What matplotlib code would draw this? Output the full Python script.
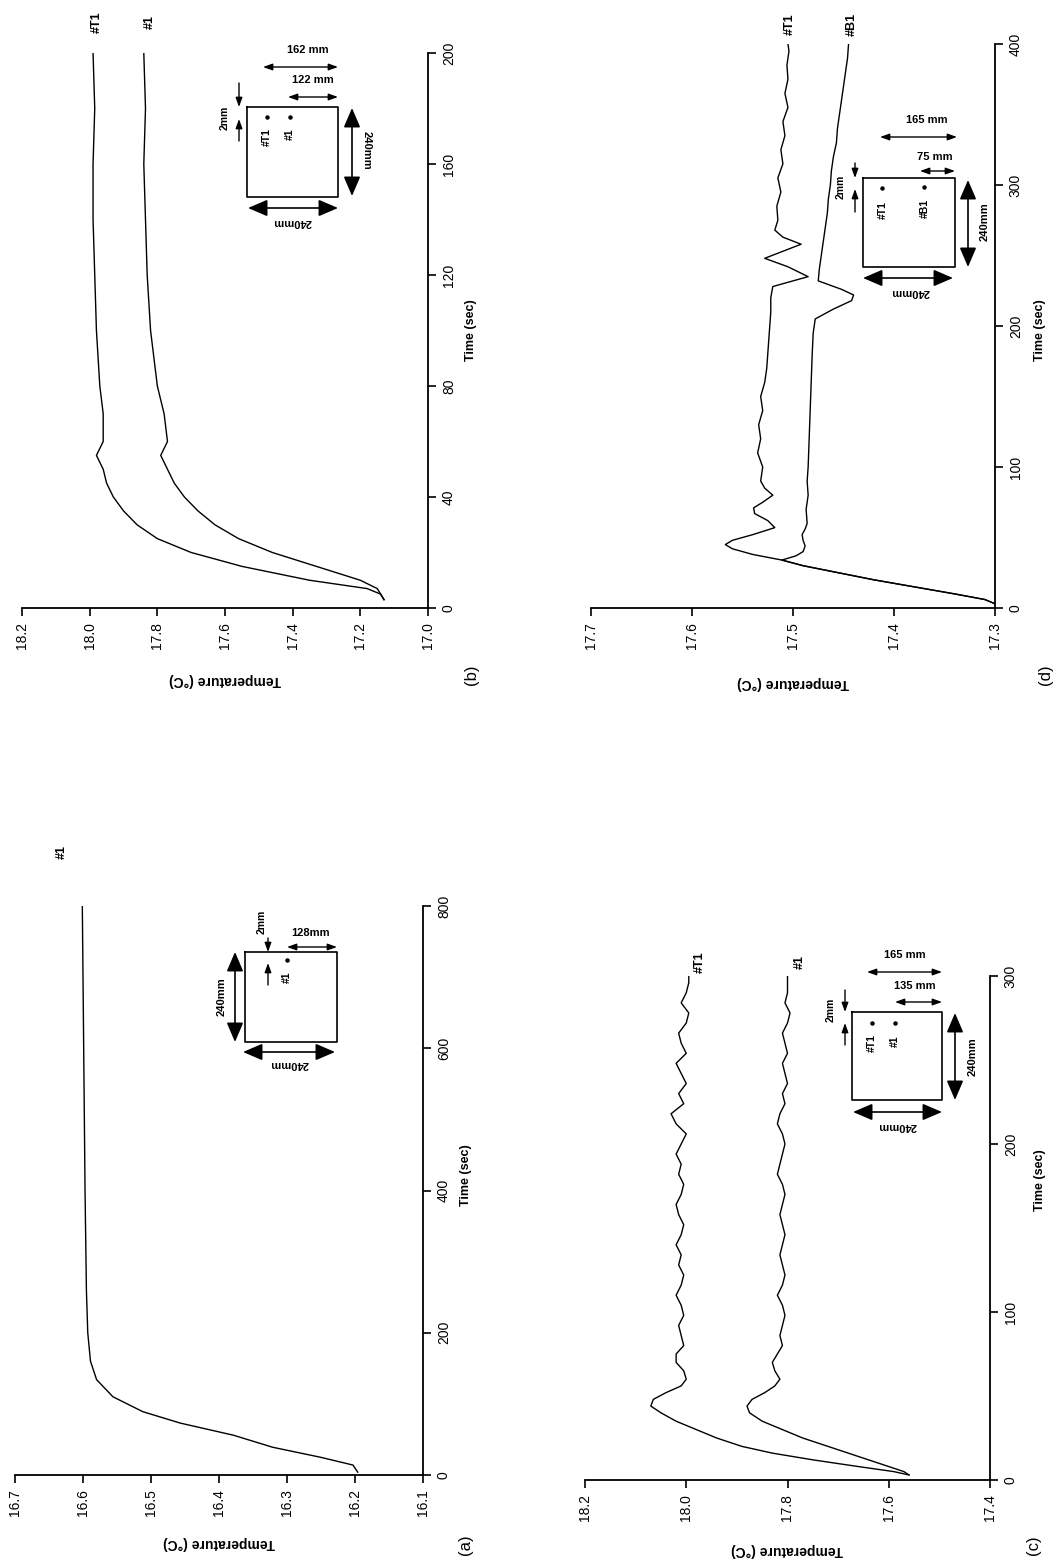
import matplotlib
matplotlib.use("Agg")
import matplotlib.pyplot as plt

plt.rcParams['font.family'] = ['Liberation Sans', 'DejaVu Sans']

W, H = 1060, 1562

# ---------------- data ----------------
# (a) single sensor #1
a_time = [4, 14, 25, 39, 56, 73, 89, 110, 134, 160, 200, 260, 330, 400, 500, 600, 700, 800]
a_t1 = [16.196, 16.203, 16.251, 16.321, 16.379, 16.457, 16.512, 16.556, 16.58, 16.589, 16.593,
        16.595, 16.596, 16.597, 16.598, 16.599, 16.6, 16.601]

# (b) sensors #T1 and #1
b_time = [3, 5, 7, 10, 15, 20, 25, 30, 35, 40, 45, 50, 55, 60, 70, 80, 100, 120, 140, 160, 180, 200]
b_T1 = [17.13, 17.14, 17.18, 17.35, 17.55, 17.70, 17.80, 17.86, 17.90, 17.93, 17.95, 17.96, 17.98,
        17.96, 17.96, 17.97, 17.98, 17.985, 17.99, 17.99, 17.985, 17.99]
b_1 = [17.13, 17.14, 17.15, 17.20, 17.33, 17.46, 17.56, 17.63, 17.68, 17.72, 17.75, 17.77, 17.79,
       17.77, 17.78, 17.80, 17.82, 17.83, 17.835, 17.84, 17.835, 17.84]

# (c) sensors #T1 and #1
c_time = [3, 5, 8, 12, 16, 20, 25, 30, 35, 40, 44, 48, 52, 56, 60, 65, 70, 75, 80, 86, 92, 98, 104,
          110, 116, 122, 128, 134, 140, 146, 152, 158, 164, 170, 176, 182, 188, 194, 200, 206, 212,
          218, 224, 230, 236, 242, 248, 254, 260, 266, 272, 278, 284, 290, 296, 300]
c_T1 = [17.56, 17.59, 17.66, 17.75, 17.83, 17.89, 17.94, 17.98, 18.02, 18.05, 18.07, 18.065, 18.04,
        18.01, 18.0, 18.005, 18.02, 18.02, 18.005, 18.01, 18.015, 18.005, 18.01, 18.02, 18.01, 18.005,
        18.015, 18.01, 18.02, 18.01, 18.005, 18.015, 18.02, 18.01, 18.005, 18.015, 18.01, 18.02, 18.01,
        18.0, 18.02, 18.03, 18.005, 18.015, 18.0, 18.01, 18.02, 18.0, 18.01, 18.015, 18.0, 17.995,
        18.01, 18.0, 17.995, 17.995]
c_1 = [17.56, 17.57, 17.60, 17.64, 17.68, 17.72, 17.77, 17.81, 17.85, 17.875, 17.88, 17.87, 17.845,
       17.825, 17.815, 17.825, 17.83, 17.82, 17.81, 17.815, 17.81, 17.805, 17.81, 17.82, 17.81, 17.805,
       17.81, 17.815, 17.81, 17.805, 17.81, 17.815, 17.81, 17.805, 17.81, 17.82, 17.815, 17.81, 17.805,
       17.81, 17.82, 17.815, 17.805, 17.81, 17.80, 17.805, 17.81, 17.80, 17.805, 17.81, 17.80, 17.795,
       17.805, 17.80, 17.80, 17.80]

# (d) sensors #T1 and #B1
d_T1_time = [3, 6, 10, 15, 20, 25, 30, 34, 38, 42, 45, 48, 52, 57, 62, 67, 71, 75, 80, 85, 90, 100,
             110, 120, 130, 140, 150, 160, 170, 180, 190, 200, 210, 220, 228, 235, 242, 248, 253, 258,
             263, 268, 275, 285, 295, 305, 315, 325, 335, 345, 355, 365, 375, 385, 395, 400]
d_T1 = [17.30, 17.31, 17.34, 17.38, 17.42, 17.455, 17.49, 17.511, 17.54, 17.56, 17.567, 17.56, 17.54,
        17.518, 17.525, 17.538, 17.539, 17.53, 17.52, 17.528, 17.532, 17.53, 17.535, 17.532, 17.534,
        17.53, 17.532, 17.528, 17.526, 17.525, 17.524, 17.523, 17.522, 17.522, 17.52, 17.485, 17.505,
        17.528, 17.51, 17.492, 17.51, 17.518, 17.515, 17.516, 17.512, 17.515, 17.51, 17.512, 17.508,
        17.51, 17.505, 17.508, 17.505, 17.506, 17.504, 17.505]
d_B1_time = [3, 6, 10, 15, 20, 25, 30, 34, 37, 40, 44, 48, 52, 56, 60, 70, 80, 90, 100, 120, 140, 160,
             180, 195, 205, 212, 218, 222, 226, 232, 240, 250, 260, 270, 280, 290, 300, 310, 320, 330,
             340, 350, 360, 370, 380, 390, 400]
d_B1 = [17.30, 17.31, 17.34, 17.38, 17.42, 17.455, 17.49, 17.511, 17.497, 17.49, 17.488, 17.49,
        17.491, 17.488, 17.486, 17.487, 17.485, 17.486, 17.485, 17.484, 17.483, 17.482, 17.481, 17.48,
        17.478, 17.46, 17.442, 17.44, 17.452, 17.475, 17.474, 17.472, 17.47, 17.468, 17.466, 17.465,
        17.463, 17.462, 17.46, 17.457, 17.456, 17.454, 17.452, 17.45, 17.448, 17.446, 17.445]

# axis settings: (temperature ticks, time ticks)
a_temp_ticks = [16.7, 16.6, 16.5, 16.4, 16.3, 16.2, 16.1]
a_time_ticks = [0, 200, 400, 600, 800]
b_temp_ticks = [18.2, 18.0, 17.8, 17.6, 17.4, 17.2, 17.0]
b_time_ticks = [0, 40, 80, 120, 160, 200]
c_temp_ticks = [18.2, 18.0, 17.8, 17.6, 17.4]
c_time_ticks = [0, 100, 200, 300]
d_temp_ticks = [17.7, 17.6, 17.5, 17.4, 17.3]
d_time_ticks = [0, 100, 200, 300, 400]

fig = plt.figure(figsize=(W / 100, H / 100), dpi=100)


def rect(x0, y0, x1, y1):
    return [x0 / W, 1 - y1 / H, (x1 - x0) / W, (y1 - y0) / H]


def ftext(x, y, s, **kw):
    fig.text(x / W, 1 - y / H, s, ha='center', va='center', **kw)


def panel(box, temp_ticks, time_ticks, series, fmt):
    ax = fig.add_axes(rect(*box))
    for t, v in series:
        ax.plot(v, t, color='black', lw=1.0)
    ax.set_xlim(max(temp_ticks), min(temp_ticks))
    ax.set_ylim(min(time_ticks), max(time_ticks))
    ax.set_xticks(temp_ticks)
    ax.set_xticklabels([fmt % v for v in temp_ticks], rotation=90, fontsize=10)
    ax.set_yticks(time_ticks)
    ax.set_yticklabels([str(v) for v in time_ticks], rotation=90, fontsize=10, va='center')
    ax.yaxis.tick_right()
    ax.spines['top'].set_visible(False)
    ax.spines['left'].set_visible(False)
    for s in ('bottom', 'right'):
        ax.spines[s].set_linewidth(1.3)
    ax.tick_params(direction='out', length=6, width=1.2, pad=4)
    ax.patch.set_alpha(0)
    return ax


panel((15, 906, 423, 1475), a_temp_ticks, a_time_ticks, [(a_time, a_t1)], '%.1f')
panel((22, 53, 428, 608), b_temp_ticks, b_time_ticks, [(b_time, b_T1), (b_time, b_1)], '%.1f')
panel((585, 976, 990, 1480), c_temp_ticks, c_time_ticks, [(c_time, c_T1), (c_time, c_1)], '%.1f')
panel((591, 44, 995, 608), d_temp_ticks, d_time_ticks, [(d_T1_time, d_T1), (d_B1_time, d_B1)], '%.1f')

# axis titles
for (x, y) in [(219, 1543), (225, 680), (787, 1550), (793, 683)]:
    ftext(x, y, 'Temperature (°C)', rotation=180, fontsize=10, fontweight='bold')
for (x, y) in [(466, 1175), (471, 330), (1040, 1180), (1040, 330)]:
    ftext(x, y, 'Time (sec)', rotation=90, fontsize=9, fontweight='bold')
ftext(466, 1545, '(a)', rotation=90, fontsize=12)
ftext(471, 675, '(b)', rotation=90, fontsize=12)
ftext(1033, 1545, '(c)', rotation=90, fontsize=12)
ftext(1045, 675, '(d)', rotation=90, fontsize=12)

# curve labels
ftext(62, 852, '#1', rotation=90, fontsize=9, fontweight='bold')
ftext(97, 22, '#T1', rotation=90, fontsize=9, fontweight='bold')
ftext(150, 22, '#1', rotation=90, fontsize=9, fontweight='bold')
ftext(700, 962, '#T1', rotation=90, fontsize=9, fontweight='bold')
ftext(800, 962, '#1', rotation=90, fontsize=9, fontweight='bold')
ftext(790, 24, '#T1', rotation=90, fontsize=9, fontweight='bold')
ftext(852, 24, '#B1', rotation=90, fontsize=9, fontweight='bold')

# ---------------- inset sketches (pixel overlay) ----------------
ov = fig.add_axes([0, 0, 1, 1])
ov.set_xlim(0, W)
ov.set_ylim(H, 0)
ov.axis('off')
ov.patch.set_alpha(0)

BIG = dict(arrowstyle='<|-|>,head_length=0.7,head_width=0.3', color='black', lw=1.2,
           mutation_scale=17, shrinkA=0, shrinkB=0)
SMALL = dict(arrowstyle='<|-|>,head_length=0.5,head_width=0.18', color='black', lw=1.0,
             mutation_scale=11, shrinkA=0, shrinkB=0)
ONE = dict(arrowstyle='-|>,head_length=0.5,head_width=0.18', color='black', lw=1.0,
           mutation_scale=11, shrinkA=0, shrinkB=0)


def arrow(p0, p1, style):
    ov.annotate('', xy=p1, xytext=p0, arrowprops=style)


def square(x0, y0, x1, y1):
    ov.plot([x0, x1, x1, x0, x0], [y0, y0, y1, y1, y0], color='black', lw=1.2)


def otext(x, y, s, rot=0, size=8, weight='bold'):
    ov.text(x, y, s, rotation=rot, ha='center', va='center', fontsize=size, fontweight=weight)


def dot(x, y):
    ov.plot([x], [y], marker='o', ms=2.2, color='black')


# inset (a)
square(245, 952, 337, 1042)
arrow((235, 1042), (235, 952), BIG)
otext(222, 997, '240mm', rot=90)
arrow((243, 1052), (335, 1052), BIG)
otext(289, 1064, '240mm', rot=180)
arrow((287, 947), (337, 947), SMALL)
otext(311, 933, '128mm', rot=0)
arrow((268, 938), (268, 952), ONE)
arrow((268, 985), (268, 963), ONE)
otext(262, 922, '2mm', rot=90, size=7.5)
dot(287, 960)
otext(287, 977, '#1', rot=90, size=7.5)

# inset (b)
square(247, 107, 338, 197)
arrow((352, 108), (352, 196), BIG)
otext(367, 150, '240mm', rot=270)
arrow((248, 208), (338, 208), BIG)
otext(292, 222, '240mm', rot=180)
arrow((263, 67), (338, 67), SMALL)
otext(308, 50, '162 mm', rot=0)
arrow((288, 97), (338, 97), SMALL)
otext(313, 80, '122 mm', rot=0)
arrow((239, 83), (239, 107), ONE)
arrow((239, 141), (239, 119), ONE)
otext(225, 118, '2mm', rot=90, size=7.5)
dot(267, 117)
dot(290, 117)
otext(267, 137, '#T1', rot=90, size=7.5)
otext(290, 134, '#1', rot=90, size=7.5)

# inset (c)
square(852, 1012, 942, 1100)
arrow((955, 1013), (955, 1100), BIG)
otext(973, 1057, '240mm', rot=90)
arrow((853, 1112), (942, 1112), BIG)
otext(897, 1126, '240mm', rot=180)
arrow((867, 972), (942, 972), SMALL)
otext(905, 955, '165 mm', rot=0)
arrow((895, 1002), (942, 1002), SMALL)
otext(915, 986, '135 mm', rot=0)
arrow((845, 990), (845, 1012), ONE)
arrow((845, 1045), (845, 1023), ONE)
otext(831, 1010, '2mm', rot=90, size=7.5)
dot(872, 1023)
dot(895, 1023)
otext(872, 1043, '#T1', rot=90, size=7.5)
otext(895, 1041, '#1', rot=90, size=7.5)

# inset (d)
square(863, 178, 955, 267)
arrow((968, 180), (968, 267), BIG)
otext(985, 222, '240mm', rot=90)
arrow((863, 278), (953, 278), BIG)
otext(910, 292, '240mm', rot=180)
arrow((880, 137), (957, 137), SMALL)
otext(927, 120, '165 mm', rot=0)
arrow((920, 171), (955, 171), SMALL)
otext(935, 157, '75 mm', rot=0)
arrow((855, 163), (855, 178), ONE)
arrow((855, 212), (855, 189), ONE)
otext(841, 187, '2mm', rot=90, size=7.5)
dot(882, 188)
dot(924, 187)
otext(883, 210, '#T1', rot=90, size=7.5)
otext(925, 208, '#B1', rot=90, size=7.5)

fig.savefig('out.png', dpi=100)
